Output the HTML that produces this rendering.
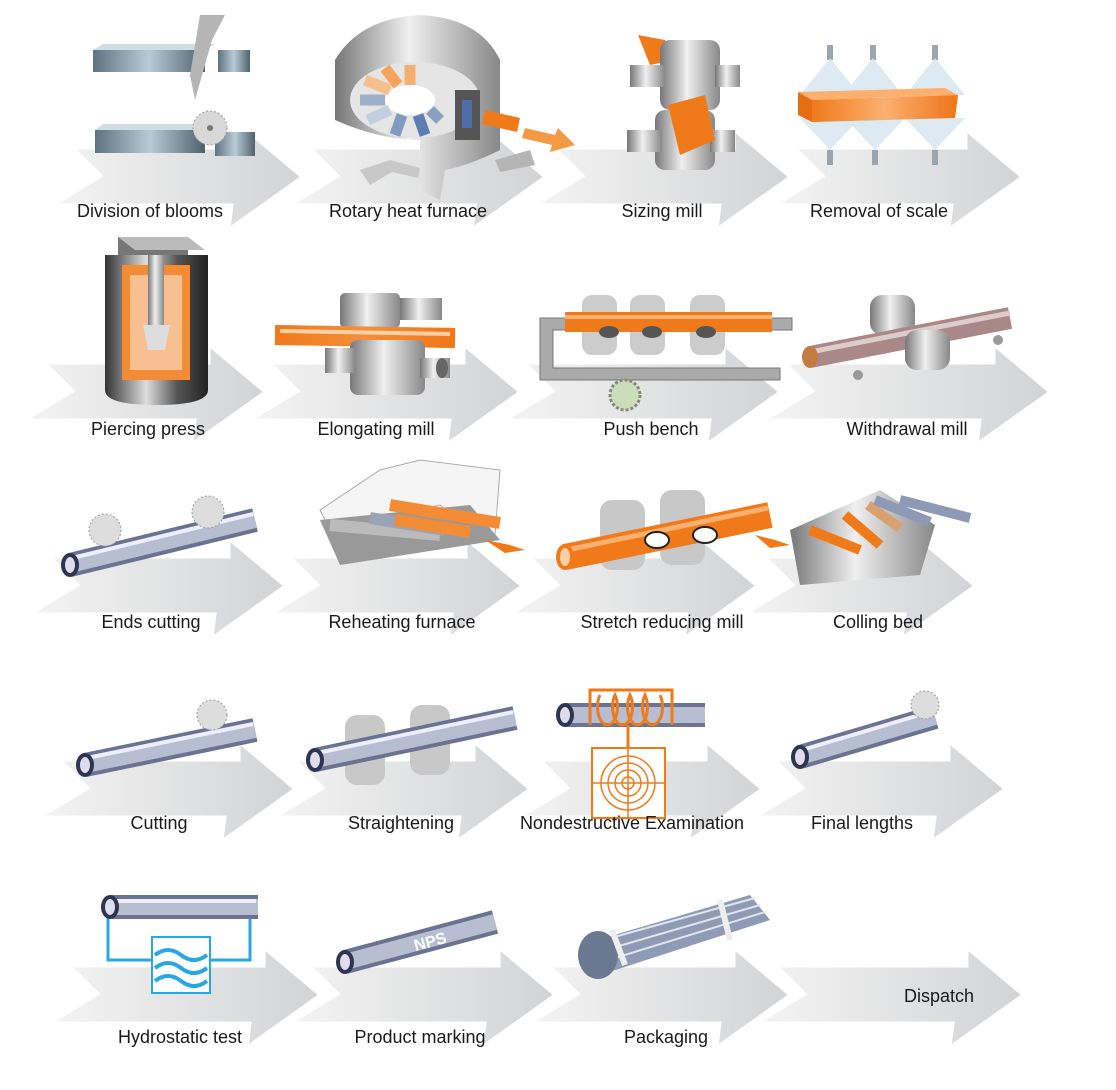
<!DOCTYPE html>
<html><head><meta charset="utf-8"><style>
html,body{margin:0;padding:0;background:#fff}
svg{display:block}
text{font-family:"Liberation Sans",sans-serif;font-size:18px;fill:#1a1a1a;text-anchor:middle}
</style></head><body>
<svg width="1116" height="1090" viewBox="0 0 1116 1090" xmlns="http://www.w3.org/2000/svg">
<defs>
<linearGradient id="ag" x1="0" x2="1" y1="0" y2="0"><stop offset="0" stop-color="#f4f4f4"/><stop offset="1" stop-color="#d2d3d5"/></linearGradient>
<linearGradient id="steel" x1="0" x2="1"><stop offset="0" stop-color="#6b7480"/><stop offset=".4" stop-color="#e8ecef"/><stop offset="1" stop-color="#7d8690"/></linearGradient>
<linearGradient id="blk" x1="0" x2="1"><stop offset="0" stop-color="#5f7280"/><stop offset=".5" stop-color="#b9cbd6"/><stop offset="1" stop-color="#4f616d"/></linearGradient>
<linearGradient id="gr" x1="0" x2="1"><stop offset="0" stop-color="#777"/><stop offset=".45" stop-color="#f0f0f0"/><stop offset="1" stop-color="#888"/></linearGradient>
<linearGradient id="dk" x1="0" x2="1"><stop offset="0" stop-color="#333"/><stop offset=".4" stop-color="#ddd"/><stop offset=".7" stop-color="#555"/><stop offset="1" stop-color="#222"/></linearGradient>
<linearGradient id="or" x1="0" x2="1"><stop offset="0" stop-color="#f07a1a"/><stop offset=".5" stop-color="#fbb070"/><stop offset="1" stop-color="#ee7418"/></linearGradient>
</defs>
<g fill="url(#ag)" stroke="#fff" stroke-width="3">
<polygon points="73,148 246,148 246,130 302,177 229,229 232,205 53,205 101,176"/>
<polygon points="310,148 489,148 489,130 545,177 472,229 475,205 290,205 338,176"/>
<polygon points="555,148 734,148 734,130 790,177 717,229 720,205 535,205 583,176"/>
<polygon points="795,148 966,148 966,130 1022,177 949,229 952,205 775,205 823,176"/>
<polygon points="45,363 209,363 209,345 265,392 192,444 195,420 25,420 73,391"/>
<polygon points="270,363 464,363 464,345 520,392 447,444 450,420 250,420 298,391"/>
<polygon points="525,363 724,363 724,345 780,392 707,444 710,420 505,420 553,391"/>
<polygon points="785,363 994,363 994,345 1050,392 977,444 980,420 765,420 813,391"/>
<polygon points="50,557 229,557 229,539 285,586 212,638 215,614 30,614 78,585"/>
<polygon points="290,557 466,557 466,539 522,586 449,638 452,614 270,614 318,585"/>
<polygon points="530,557 701,557 701,539 757,586 684,638 687,614 510,614 558,585"/>
<polygon points="765,557 919,557 919,539 975,586 902,638 905,614 745,614 793,585"/>
<polygon points="60,760 239,760 239,742 295,789 222,841 225,817 40,817 88,788"/>
<polygon points="295,760 474,760 474,742 530,789 457,841 460,817 275,817 323,788"/>
<polygon points="540,760 706,760 706,742 762,789 689,841 692,817 520,817 568,788"/>
<polygon points="775,760 949,760 949,742 1005,789 932,841 935,817 755,817 803,788"/>
<polygon points="70,966 264,966 264,948 320,995 247,1047 250,1023 50,1023 98,994"/>
<polygon points="310,966 499,966 499,948 555,995 482,1047 485,1023 290,1023 338,994"/>
<polygon points="550,966 734,966 734,948 790,995 717,1047 720,1023 530,1023 578,994"/>
<polygon points="777,966 967,966 967,948 1023,995 950,1047 953,1023 757,1023 805,994"/>
</g>

<!-- Row1 icons -->
<g>
<polygon points="93,50 205,50 215,44 103,44" fill="#cfdde5"/><rect x="93" y="50" width="112" height="22" fill="url(#blk)"/>
<polygon points="218,50 250,50 250,72 218,72" fill="url(#blk)"/>
<polygon points="200,15 225,15 212,40 195,100 190,75" fill="#b5b5b5"/>
<polygon points="95,130 205,130 213,124 103,124" fill="#cfdde5"/><rect x="95" y="130" width="110" height="23" fill="url(#blk)"/>
<rect x="215" y="132" width="40" height="24" fill="url(#blk)"/>
<circle cx="210" cy="128" r="17" fill="#d8d8d8" stroke="#999" stroke-dasharray="2 2"/><circle cx="210" cy="128" r="3" fill="#777"/>
</g>
<g>
<path d="M335,60 Q360,18 420,15 Q480,18 500,60 L500,150 Q470,165 445,170 L440,200 L420,190 L420,140 Q380,140 335,120 Z" fill="url(#gr)"/>
<ellipse cx="415" cy="100" rx="65" ry="38" fill="#e5e5e5"/>
<ellipse cx="410" cy="100" rx="25" ry="15" fill="#fff"/>
<g stroke-width="11">
<line x1="360" y1="100" x2="385" y2="100" stroke="#9db0c9"/><line x1="365" y1="80" x2="390" y2="90" stroke="#f5c08d"/>
<line x1="385" y1="68" x2="398" y2="85" stroke="#f7a45a"/><line x1="410" y1="65" x2="410" y2="85" stroke="#f4b070"/>
<line x1="368" y1="120" x2="390" y2="110" stroke="#bfd0e0"/><line x1="395" y1="135" x2="402" y2="115" stroke="#7f9bc2"/>
<line x1="425" y1="135" x2="418" y2="115" stroke="#5d7eb3"/><line x1="440" y1="120" x2="430" y2="110" stroke="#8aa0c0"/>
</g>
<rect x="455" y="90" width="25" height="50" fill="#555"/><rect x="462" y="100" width="10" height="28" fill="#4d6ea8"/>
<polygon points="485,110 520,118 517,132 482,124" fill="#f07a1a"/>
<polygon points="525,128 555,135 558,128 575,145 550,152 552,145 522,138" fill="#f49a45"/>
<polygon points="360,170 390,160 420,168 418,178 392,172 370,185" fill="#c8c8c8"/>
<polygon points="495,160 530,150 535,165 500,172" fill="#b5b5b5"/>
</g>
<g>
<polygon points="638,35 665,40 675,60 650,65" fill="#f07a1a"/>
<rect x="660" y="40" width="60" height="70" rx="10" fill="url(#gr)"/><rect x="630" y="65" width="35" height="22" fill="url(#gr)"/><rect x="715" y="65" width="25" height="22" fill="url(#gr)"/>
<rect x="655" y="110" width="60" height="60" rx="10" fill="url(#gr)"/><rect x="627" y="130" width="35" height="22" fill="url(#gr)"/><rect x="710" y="130" width="25" height="22" fill="url(#gr)"/>
<polygon points="668,105 705,95 715,140 680,155" fill="#f07a1a"/>
</g>
<g>
<g stroke="#9aa5b0" stroke-width="6"><line x1="830" y1="45" x2="830" y2="60"/><line x1="873" y1="45" x2="873" y2="60"/><line x1="935" y1="45" x2="935" y2="60"/>
<line x1="830" y1="150" x2="830" y2="165"/><line x1="875" y1="150" x2="875" y2="165"/><line x1="935" y1="150" x2="935" y2="165"/></g>
<g fill="#d7e6ef" opacity=".8"><polygon points="830,58 800,95 860,95"/><polygon points="873,58 843,95 903,95"/><polygon points="935,58 905,95 965,95"/>
<polygon points="830,150 800,118 860,118"/><polygon points="875,150 845,118 905,118"/><polygon points="935,150 905,118 965,118"/></g>
<polygon points="798,92 945,88 958,95 812,100" fill="#fbb070"/>
<polygon points="798,92 812,100 812,122 798,115" fill="#e56e12"/>
<polygon points="812,100 958,95 955,118 812,122" fill="url(#or)"/>
</g>

<!-- Row2 icons -->
<g>
<rect x="118" y="237" width="70" height="18" fill="#777"/><polygon points="118,237 188,237 205,250 135,250" fill="#bbb"/>
<path d="M105,255 L208,255 L208,390 Q208,405 156,405 Q105,405 105,390 Z" fill="url(#dk)"/>
<path d="M122,265 L190,265 L190,380 L122,380 Z" fill="#f48b35"/>
<rect x="130" y="275" width="52" height="95" fill="#f8c090"/>
<rect x="148" y="255" width="16" height="70" fill="url(#gr)"/><polygon points="143,325 170,325 165,350 148,350" fill="#ddd"/>
</g>
<g>
<rect x="340" y="293" width="60" height="35" rx="5" fill="url(#gr)"/><rect x="400" y="298" width="42" height="22" fill="url(#gr)"/>
<line x1="275" y1="335" x2="455" y2="338" stroke="url(#or)" stroke-width="20"/>
<line x1="275" y1="335" x2="455" y2="338" stroke="#f07a1a" stroke-width="20" opacity=".6"/>
<line x1="280" y1="331" x2="450" y2="334" stroke="#ffd0a8" stroke-width="4"/>
<rect x="350" y="340" width="75" height="55" rx="8" fill="url(#gr)"/><rect x="325" y="348" width="30" height="25" fill="url(#gr)"/><rect x="420" y="358" width="30" height="20" fill="url(#gr)"/>
<ellipse cx="442" cy="368" rx="6" ry="10" fill="#666"/>
</g>
<g>
<path d="M540,318 L792,318 L792,330 L553,330 L553,368 L780,368 L780,380 L540,380 Z" fill="#aaa" stroke="#777"/>
<g fill="#ccc"><rect x="582" y="295" width="35" height="60" rx="10"/><rect x="630" y="295" width="35" height="60" rx="10"/><rect x="690" y="295" width="35" height="60" rx="10"/></g>
<line x1="565" y1="322" x2="772" y2="322" stroke="#f07a1a" stroke-width="20"/>
<line x1="565" y1="317" x2="772" y2="317" stroke="#fbb070" stroke-width="4"/>
<g fill="#555"><ellipse cx="609" cy="332" rx="10" ry="6"/><ellipse cx="652" cy="332" rx="10" ry="6"/><ellipse cx="706" cy="332" rx="10" ry="6"/></g>
<circle cx="625" cy="395" r="15" fill="#cdb" stroke="#887" stroke-dasharray="3 2" stroke-width="3"/>
</g>
<g>
<rect x="870" y="295" width="45" height="40" rx="12" fill="url(#gr)"/>
<line x1="810" y1="357" x2="1010" y2="318" stroke="#a88" stroke-width="22"/>
<line x1="810" y1="352" x2="1010" y2="313" stroke="#dcc" stroke-width="5"/>
<ellipse cx="810" cy="357" rx="8" ry="11" fill="#c47a40"/>
<rect x="905" y="330" width="45" height="40" rx="12" fill="url(#gr)"/>
<circle cx="858" cy="375" r="5" fill="#999"/><circle cx="998" cy="340" r="5" fill="#999"/>
</g>

<!-- Row3 -->
<g>
<line x1="70" y1="565" x2="255" y2="520" stroke="#6a7390" stroke-width="24"/>
<line x1="70" y1="565" x2="255" y2="520" stroke="#b7bed1" stroke-width="16"/>
<line x1="72" y1="558" x2="253" y2="514" stroke="#eef" stroke-width="4"/>
<ellipse cx="70" cy="565" rx="9" ry="12" fill="#2e3550"/><ellipse cx="70" cy="565" rx="5" ry="8" fill="#dde"/>
<circle cx="105" cy="530" r="16" fill="#ddd" stroke="#999" stroke-dasharray="2 2"/><circle cx="208" cy="512" r="16" fill="#ddd" stroke="#999" stroke-dasharray="2 2"/>
</g>
<g>
<polygon points="320,510 380,470 420,460 500,470 495,535 470,530 440,505 330,530" fill="#f5f5f5" stroke="#aaa"/>
<polygon points="320,520 470,505 500,540 340,565" fill="#999"/>
<g stroke-width="12"><line x1="330" y1="525" x2="440" y2="535" stroke="#bbb"/><line x1="370" y1="518" x2="445" y2="530" stroke="#9aa3b8"/><line x1="390" y1="505" x2="500" y2="523" stroke="#f48b35"/><line x1="395" y1="520" x2="470" y2="532" stroke="#f48b35"/></g>
<polygon points="485,540 510,545 525,550 505,553" fill="#f07a1a"/>
</g>
<g>
<g fill="#c8c8c8"><rect x="600" y="500" width="45" height="70" rx="12"/><rect x="660" y="490" width="45" height="75" rx="12"/></g>
<line x1="565" y1="557" x2="770" y2="515" stroke="#f07a1a" stroke-width="26"/>
<line x1="567" y1="550" x2="768" y2="508" stroke="#fbb070" stroke-width="5"/>
<ellipse cx="565" cy="557" rx="9" ry="13" fill="#f07a1a"/><ellipse cx="565" cy="557" rx="5" ry="9" fill="#fcd0a8"/>
<g fill="#fff" stroke="#222" stroke-width="2"><ellipse cx="657" cy="540" rx="12" ry="8"/><ellipse cx="705" cy="535" rx="12" ry="8"/></g>
<polygon points="755,535 775,540 790,545 770,548" fill="#f07a1a"/>
</g>
<g>
<polygon points="790,530 880,490 935,525 920,575 800,585" fill="url(#gr)"/>
<g stroke-width="10"><line x1="810" y1="530" x2="860" y2="550" stroke="#f07a1a"/><line x1="845" y1="515" x2="880" y2="545" stroke="#f07a1a"/><line x1="868" y1="505" x2="900" y2="528" stroke="#d9a070"/><line x1="875" y1="500" x2="930" y2="522" stroke="#8e9ab5"/><line x1="900" y1="500" x2="970" y2="518" stroke="#8e9ab5"/></g>
<polygon points="930,530 970,540 990,545" fill="#ccc"/>
</g>

<!-- Row4 -->
<g>
<line x1="85" y1="765" x2="255" y2="730" stroke="#6a7390" stroke-width="24"/><line x1="85" y1="765" x2="255" y2="730" stroke="#b7bed1" stroke-width="16"/>
<line x1="87" y1="758" x2="253" y2="724" stroke="#eef" stroke-width="4"/>
<ellipse cx="85" cy="765" rx="9" ry="12" fill="#2e3550"/><ellipse cx="85" cy="765" rx="5" ry="8" fill="#dde"/>
<circle cx="212" cy="715" r="15" fill="#ddd" stroke="#999" stroke-dasharray="2 2"/>
</g>
<g>
<g fill="#c8c8c8"><rect x="345" y="715" width="40" height="70" rx="12"/><rect x="410" y="705" width="40" height="70" rx="12"/></g>
<line x1="315" y1="760" x2="515" y2="718" stroke="#6a7390" stroke-width="24"/><line x1="315" y1="760" x2="515" y2="718" stroke="#b7bed1" stroke-width="16"/>
<line x1="317" y1="753" x2="513" y2="712" stroke="#eef" stroke-width="4"/>
<ellipse cx="315" cy="760" rx="9" ry="12" fill="#2e3550"/><ellipse cx="315" cy="760" rx="5" ry="8" fill="#dde"/>
</g>
<g>
<line x1="565" y1="715" x2="705" y2="715" stroke="#6a7390" stroke-width="24"/><line x1="565" y1="715" x2="705" y2="715" stroke="#b7bed1" stroke-width="16"/>
<ellipse cx="565" cy="715" rx="9" ry="12" fill="#2e3550"/><ellipse cx="565" cy="715" rx="5" ry="8" fill="#dde"/>
<path d="M590,725 L590,690 L672,690 L672,725 M600,695 a10,18 0 1 0 15,0 a10,18 0 1 0 15,0 a10,18 0 1 0 15,0 a10,18 0 1 0 15,0" fill="none" stroke="#f07a1a" stroke-width="3"/>
<line x1="628" y1="725" x2="628" y2="748" stroke="#f07a1a" stroke-width="3"/>
<rect x="592" y="748" width="73" height="70" fill="#fff" stroke="#f07a1a" stroke-width="2"/>
<g fill="none" stroke="#f07a1a" stroke-width="1.5"><circle cx="628" cy="783" r="6"/><circle cx="628" cy="783" r="13"/><circle cx="628" cy="783" r="20"/><circle cx="628" cy="783" r="27"/><line x1="592" y1="783" x2="665" y2="783"/><line x1="628" y1="748" x2="628" y2="818"/></g>
</g>
<g>
<line x1="800" y1="757" x2="935" y2="717" stroke="#6a7390" stroke-width="24"/><line x1="800" y1="757" x2="935" y2="717" stroke="#b7bed1" stroke-width="16"/>
<line x1="802" y1="750" x2="933" y2="711" stroke="#eef" stroke-width="4"/>
<ellipse cx="800" cy="757" rx="9" ry="12" fill="#2e3550"/><ellipse cx="800" cy="757" rx="5" ry="8" fill="#dde"/>
<circle cx="925" cy="705" r="14" fill="#ddd" stroke="#999" stroke-dasharray="2 2"/>
</g>

<!-- Row5 -->
<g>
<path d="M108,912 L108,960 L250,960 L250,912" fill="none" stroke="#29a8e0" stroke-width="3"/>
<line x1="110" y1="907" x2="258" y2="907" stroke="#6a7390" stroke-width="24"/><line x1="110" y1="907" x2="258" y2="907" stroke="#b7bed1" stroke-width="16"/>
<line x1="112" y1="901" x2="256" y2="901" stroke="#eef" stroke-width="4"/>
<ellipse cx="110" cy="907" rx="9" ry="12" fill="#2e3550"/><ellipse cx="110" cy="907" rx="5" ry="8" fill="#dde"/>
<rect x="152" y="937" width="58" height="56" fill="#fff" stroke="#29a8e0" stroke-width="2"/>
<path d="M155,955 q13,-10 26,0 t26,0 M155,968 q13,-10 26,0 t26,0 M155,981 q13,-10 26,0 t26,0" fill="none" stroke="#29a8e0" stroke-width="4"/>
</g>
<g>
<line x1="345" y1="962" x2="495" y2="922" stroke="#6a7390" stroke-width="24"/><line x1="345" y1="962" x2="495" y2="922" stroke="#b7bed1" stroke-width="16"/>
<ellipse cx="345" cy="962" rx="9" ry="12" fill="#2e3550"/><ellipse cx="345" cy="962" rx="5" ry="8" fill="#dde"/>
<text x="430" y="947" transform="rotate(-15 430 941)" style="font-size:16px;font-weight:bold;fill:#fff">NPS</text>
</g>
<g>
<polygon points="580,945 750,895 770,920 600,975" fill="#8f9ab5"/>
<g stroke="#dfe4ee" stroke-width="2"><line x1="585" y1="945" x2="755" y2="898"/><line x1="588" y1="955" x2="760" y2="905"/><line x1="592" y1="965" x2="765" y2="912"/></g>
<ellipse cx="598" cy="955" rx="20" ry="24" fill="#6b7891"/>
<g stroke="#eee" stroke-width="6"><line x1="612" y1="930" x2="625" y2="965"/><line x1="720" y1="900" x2="730" y2="940"/></g>
</g>

<!-- Labels -->
<text x="150" y="217">Division of blooms</text><text x="408" y="217">Rotary heat furnace</text><text x="662" y="217">Sizing mill</text><text x="879" y="217">Removal of scale</text>
<text x="148" y="435">Piercing press</text><text x="376" y="435">Elongating mill</text><text x="651" y="435">Push bench</text><text x="907" y="435">Withdrawal mill</text>
<text x="151" y="628">Ends cutting</text><text x="402" y="628">Reheating furnace</text><text x="662" y="628">Stretch reducing mill</text><text x="878" y="628">Colling bed</text>
<text x="159" y="829">Cutting</text><text x="401" y="829">Straightening</text><text x="632" y="829">Nondestructive Examination</text><text x="862" y="829">Final lengths</text>
<text x="180" y="1043">Hydrostatic test</text><text x="420" y="1043">Product marking</text><text x="666" y="1043">Packaging</text><text x="939" y="1002">Dispatch</text>
</svg>
</body></html>
